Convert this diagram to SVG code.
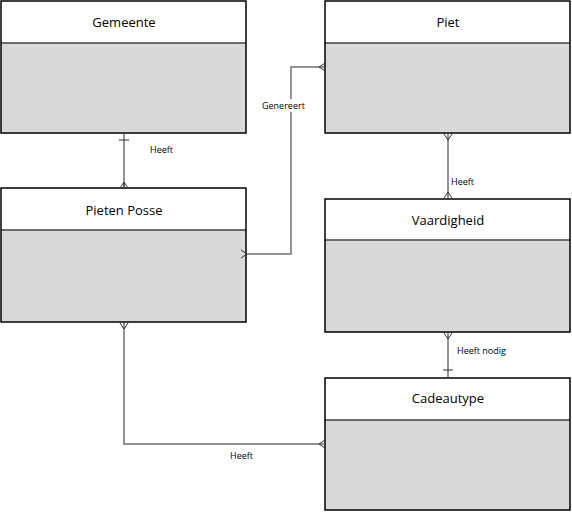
<svg xmlns="http://www.w3.org/2000/svg" width="572" height="512" viewBox="0 0 572 512">
<style>
.hd{fill:#ffffff;stroke:none}
.bd{fill:#d9d9d9;stroke:none}
.sep{stroke:#404040;stroke-width:1.5}
.box{fill:none;stroke:#000;stroke-width:1.5}
.t{font-family:"Open Sans","Liberation Sans",sans-serif;font-size:13px;text-anchor:middle;fill:#000}
.l{font-family:"Open Sans","Liberation Sans",sans-serif;font-size:9px;fill:#000}
.c{fill:none;stroke:#707070;stroke-width:1.5}
.m{fill:none;stroke:#303030;stroke-width:1}
</style>
<rect width="572" height="512" fill="#fff"/>
<g id="gemeente">
<rect class="hd" x="1" y="1" width="245" height="42"/><rect class="bd" x="1" y="43" width="245" height="90"/>
<line class="sep" x1="1" y1="43" x2="246" y2="43"/><rect class="box" x="1" y="1" width="245" height="132"/>
<text class="t" x="124" y="27">Gemeente</text></g>
<g id="piet">
<rect class="hd" x="325" y="1" width="245" height="42"/><rect class="bd" x="325" y="43" width="245" height="90"/>
<line class="sep" x1="325" y1="43" x2="570" y2="43"/><rect class="box" x="325" y="1" width="245" height="132"/>
<text class="t" x="448" y="27">Piet</text></g>
<g id="pietenposse">
<rect class="hd" x="1" y="188" width="245" height="42"/><rect class="bd" x="1" y="230" width="245" height="92"/>
<line class="sep" x1="1" y1="230" x2="246" y2="230"/><rect class="box" x="1" y="188" width="245" height="134"/>
<text class="t" x="124" y="215">Pieten Posse</text></g>
<g id="vaardigheid">
<rect class="hd" x="325" y="199" width="245" height="41"/><rect class="bd" x="325" y="240" width="245" height="92"/>
<line class="sep" x1="325" y1="240" x2="570" y2="240"/><rect class="box" x="325" y="199" width="245" height="133"/>
<text class="t" x="448" y="225">Vaardigheid</text></g>
<g id="cadeautype">
<rect class="hd" x="325" y="378" width="245" height="42"/><rect class="bd" x="325" y="420" width="245" height="90"/>
<line class="sep" x1="325" y1="420" x2="570" y2="420"/><rect class="box" x="325" y="378" width="245" height="132"/>
<text class="t" x="448" y="403">Cadeautype</text></g>
<g id="connectors">
<line class="c" x1="124" y1="134" x2="124" y2="187"/>
<line class="m" x1="119" y1="140" x2="129" y2="140"/>
<path class="m" d="M120 188 L124 182 L128 188 M124 182 V188"/>
<text class="l" x="150" y="153">Heeft</text>

<path class="c" d="M247 254 H291 V67 H324"/>
<path class="m" d="M325 63 L319 67 L325 71"/>
<path class="m" d="M241 250 L247 254 L241 258"/>
<rect x="261" y="99" width="46" height="13" fill="#fff"/>
<text class="l" x="262" y="109">Genereert</text>

<line class="c" x1="448" y1="134" x2="448" y2="198"/>
<path class="m" d="M444 134 L448 140 L452 134"/>
<path class="m" d="M444 198 L448 192 L452 198"/>
<text class="l" x="451" y="185">Heeft</text>

<line class="c" x1="448" y1="333" x2="448" y2="377"/>
<path class="m" d="M444 333 L448 339 L452 333"/>
<line class="m" x1="443" y1="370" x2="453" y2="370"/>
<text class="l" x="457" y="354">Heeft nodig</text>

<path class="c" d="M124 323 V444 H324" />
<path class="m" d="M120 323 L124 329 L128 323"/>
<path class="m" d="M325 440 L319 444 L325 448"/>
<text class="l" x="230" y="459">Heeft</text>
</g>
</svg>
